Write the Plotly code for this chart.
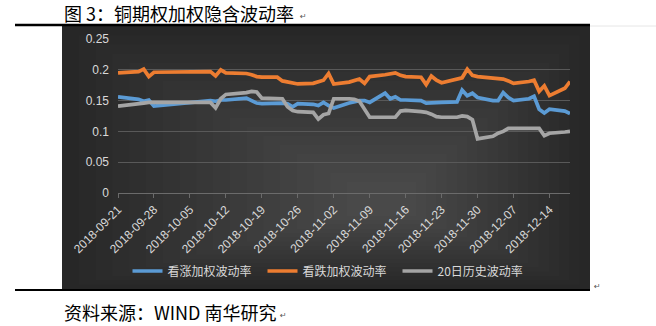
import plotly.graph_objects as go

dates = [
    "2018-09-21", "2018-09-25", "2018-09-26", "2018-09-27", "2018-09-28",
    "2018-10-08", "2018-10-09", "2018-10-10", "2018-10-11", "2018-10-12",
    "2018-10-15", "2018-10-16", "2018-10-17", "2018-10-18", "2018-10-19",
    "2018-10-22", "2018-10-23", "2018-10-24", "2018-10-25", "2018-10-26",
    "2018-10-29", "2018-10-30", "2018-10-31", "2018-11-01", "2018-11-02",
    "2018-11-05", "2018-11-06", "2018-11-07", "2018-11-08", "2018-11-09",
    "2018-11-12", "2018-11-13", "2018-11-14", "2018-11-15", "2018-11-16",
    "2018-11-19", "2018-11-20", "2018-11-21", "2018-11-22", "2018-11-23",
    "2018-11-26", "2018-11-27", "2018-11-28", "2018-11-29", "2018-11-30",
    "2018-12-03", "2018-12-04", "2018-12-05", "2018-12-06", "2018-12-07",
    "2018-12-10", "2018-12-11", "2018-12-12", "2018-12-13", "2018-12-14",
    "2018-12-17", "2018-12-18",
]

call_iv = [
    0.156, 0.152, 0.149, 0.151, 0.141,
    0.149, 0.150, 0.149, 0.151, 0.151,
    0.153, 0.154, 0.150, 0.146, 0.145,
    0.146, 0.146, 0.145, 0.140, 0.145,
    0.144, 0.142, 0.147, 0.142, 0.138,
    0.146, 0.148, 0.150, 0.150, 0.147,
    0.162, 0.153, 0.156, 0.151, 0.151,
    0.150, 0.146, 0.146, 0.146, 0.147,
    0.148, 0.167, 0.158, 0.162, 0.155,
    0.150, 0.150, 0.163, 0.155, 0.150,
    0.153, 0.157, 0.136, 0.130, 0.136,
    0.133, 0.129,
]

put_iv = [
    0.195, 0.197, 0.201, 0.189, 0.196,
    0.197, 0.197, 0.190, 0.200, 0.195,
    0.195, 0.194, 0.192, 0.189, 0.188,
    0.188, 0.182, 0.180, 0.178, 0.177,
    0.178, 0.181, 0.183, 0.194, 0.177,
    0.180, 0.182, 0.185, 0.178, 0.189,
    0.192, 0.193, 0.195, 0.191, 0.189,
    0.188, 0.176, 0.190, 0.183, 0.179,
    0.185, 0.187, 0.201, 0.191, 0.189,
    0.187, 0.186, 0.185, 0.182, 0.178,
    0.181, 0.183, 0.165, 0.174, 0.158,
    0.170, 0.181,
]

hist_vol = [
    0.141, 0.144, 0.146, 0.147, 0.147,
    0.148, 0.147, 0.138, 0.153, 0.160,
    0.162, 0.163, 0.165, 0.164, 0.154,
    0.153, 0.153, 0.140, 0.134, 0.132,
    0.131, 0.120, 0.127, 0.129, 0.153,
    0.153, 0.152, 0.149, 0.135, 0.123,
    0.123, 0.123, 0.123, 0.133, 0.134,
    0.132, 0.131, 0.128, 0.124, 0.123,
    0.123, 0.125, 0.124, 0.119, 0.088,
    0.092, 0.097, 0.100, 0.105, 0.105,
    0.105, 0.105, 0.105, 0.093, 0.097,
    0.099, 0.100,
]

series_names = ["看涨加权波动率", "看跌加权波动率", "20日历史波动率"]
series_colors = ["#5B9BD5", "#ED7D31", "#A5A5A5"]
y_ticks = [0, 0.05, 0.1, 0.15, 0.2, 0.25]
y_tick_text = ["0", "0.05", "0.1", "0.15", "0.2", "0.25"]

title_text = "图 3：铜期权加权隐含波动率"
source_text = "资料来源：WIND 南华研究"

W, H = 656, 326
L, R, T, B = 118, 570, 39, 193
CJK = "Noto Sans CJK SC, sans-serif"


def px2x(px):
    return (px - L) / (R - L)


def py2y(py):
    return (B - py) / (B - T)


fig = go.Figure()
for name, vals, col in zip(series_names, [call_iv, put_iv, hist_vol], series_colors):
    fig.add_trace(go.Scatter(
        x=dates, y=vals, name=name, mode="lines",
        line=dict(color=col, width=3.7, shape="linear"),
    ))

shapes = []
# dark panel with a soft vignette
P0x, P1x, P0y, P1y = 62, 590, 26, 289
shapes.append(dict(type="rect", xref="paper", yref="paper",
                   x0=px2x(P0x), x1=px2x(P1x), y0=py2y(P1y), y1=py2y(P0y),
                   fillcolor="#272727", line=dict(width=0), layer="below"))
cx, cy = 390, 205
N = 18
for i in range(1, N):
    t = i / N * 0.92
    x0 = P0x + t * (cx - P0x)
    x1 = P1x - t * (P1x - cx)
    y0 = P0y + t * (cy - P0y)
    y1 = P1y - t * (P1y - cy)
    shapes.append(dict(type="rect", xref="paper", yref="paper",
                       x0=px2x(x0), x1=px2x(x1), y0=py2y(y1), y1=py2y(y0),
                       fillcolor="rgba(255,255,255,0.011)", line=dict(width=0),
                       layer="below"))
# black rules
shapes.append(dict(type="line", xref="paper", yref="paper",
                   x0=px2x(15), x1=px2x(P1x), y0=py2y(25), y1=py2y(25),
                   line=dict(color="#000000", width=2.5)))
shapes.append(dict(type="line", xref="paper", yref="paper",
                   x0=px2x(15), x1=px2x(P1x), y0=py2y(290), y1=py2y(290),
                   line=dict(color="#000000", width=2)))
shapes.append(dict(type="line", xref="paper", yref="paper",
                   x0=px2x(P1x), x1=px2x(656), y0=py2y(26), y1=py2y(26),
                   line=dict(color="#e6e6e6", width=1)))

annotations = [
    dict(text=title_text, xref="paper", yref="paper", x=px2x(62), y=py2y(13),
         xanchor="left", yanchor="middle", showarrow=False,
         font=dict(family=CJK, size=18, color="#000000")),
    dict(text="↵", xref="paper", yref="paper", x=px2x(298), y=py2y(16),
         xanchor="left", yanchor="middle", showarrow=False,
         font=dict(family="DejaVu Sans", size=8, color="#555555")),
    dict(text=source_text, xref="paper", yref="paper", x=px2x(62), y=py2y(312),
         xanchor="left", yanchor="middle", showarrow=False,
         font=dict(family=CJK, size=18, color="#000000")),
    dict(text="↵", xref="paper", yref="paper", x=px2x(278), y=py2y(315),
         xanchor="left", yanchor="middle", showarrow=False,
         font=dict(family="DejaVu Sans", size=8, color="#555555")),
    dict(text="↵", xref="paper", yref="paper", x=px2x(592), y=py2y(286),
         xanchor="left", yanchor="middle", showarrow=False,
         font=dict(family="DejaVu Sans", size=8, color="#555555")),
]

fig.update_layout(
    width=W, height=H,
    margin=dict(l=L, r=W - R, t=T, b=H - B, pad=0),
    paper_bgcolor="#ffffff",
    plot_bgcolor="rgba(0,0,0,0)",
    shapes=shapes,
    annotations=annotations,
    showlegend=True,
    legend=dict(
        orientation="h", x=px2x(330), xanchor="center", y=py2y(271), yanchor="middle",
        font=dict(family=CJK, size=12, color="#d9d9d9"),
        bgcolor="rgba(0,0,0,0)", entrywidth=90, entrywidthmode="pixels",
        traceorder="normal",
    ),
    xaxis=dict(
        type="date", range=[dates[0], dates[-1]],
        tick0=dates[0], dtick=7 * 86400000, tickformat="%Y-%m-%d",
        tickangle=-45, showgrid=False, zeroline=False,
        showline=True, linecolor="#6b6b6b", linewidth=1,
        ticks="outside", ticklen=4, tickcolor="#6b6b6b",
        tickfont=dict(family="Liberation Sans, Arial", size=12, color="#d9d9d9"),
    ),
    yaxis=dict(
        range=[0, 0.25], tickvals=y_ticks, ticktext=y_tick_text,
        showgrid=True, gridcolor="#595959", gridwidth=1, zeroline=False,
        showline=False, ticks="", ticklabelstandoff=8,
        tickfont=dict(family="Liberation Sans, Arial", size=12, color="#d9d9d9"),
    ),
)

fig.write_html("out.html")
